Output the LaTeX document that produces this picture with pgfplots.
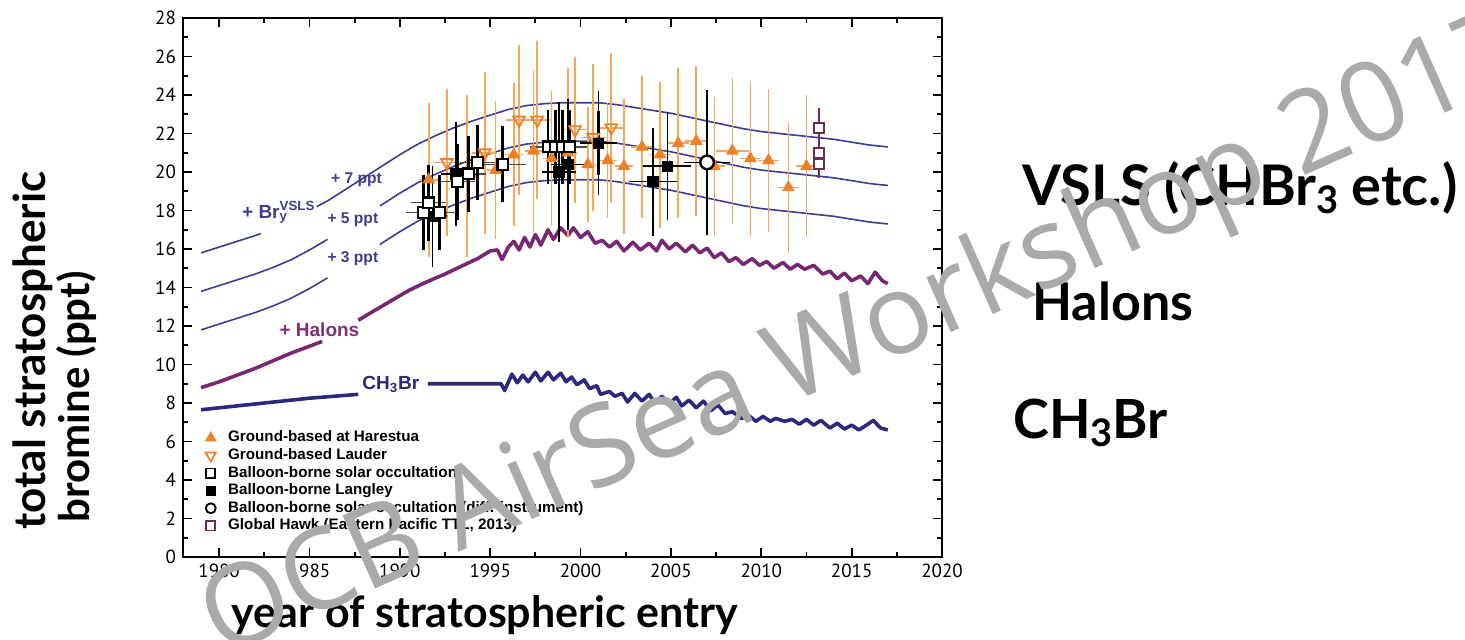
\documentclass[border=0pt]{standalone}
\usepackage{pgfplots}
\pgfplotsset{compat=1.18}
\usepackage{fontspec}
\newfontfamily\hand{Lato}
\newfontfamily\tickfont{PT Sans}
\newfontfamily\lbl{Liberation Sans}
\newfontfamily\wmfont{Open Sans}

\definecolor{vsls}{RGB}{60,60,150}
\definecolor{mebr}{RGB}{45,40,125}
\definecolor{halon}{RGB}{120,40,115}
\definecolor{orng}{RGB}{238,128,40}
\definecolor{orbar}{RGB}{246,165,90}
\definecolor{lblnavy}{RGB}{62,62,140}
\definecolor{lblpurple}{RGB}{125,48,115}
\definecolor{hawk}{RGB}{110,45,85}
\definecolor{wm}{RGB}{170,170,170}

\pgfplotsset{
  limg/.style={legend image code/.code={\path (-4pt,0pt) (8pt,0pt);\draw[mark repeat=2,mark phase=2,##1] plot coordinates {(-3pt,0pt)(0pt,0pt)(3pt,0pt)};}},
}

\begin{document}
\begin{tikzpicture}
\begin{axis}[
  at={(91.5pt,41pt)}, anchor=south west,
  scale only axis, width=379.5pt, height=269.5pt,
  xmin=1978, xmax=2020, ymin=0, ymax=28,
  xtick={1980,1985,...,2020}, ytick={0,2,...,28},
  minor x tick num=1, minor y tick num=1,
  tick align=inside, major tick length=4.5pt, minor tick length=2.5pt,
  axis line style={line width=1pt},
  every tick/.style={black, line width=0.9pt},
  tick label style={font=\tickfont\fontsize{9.5}{10}\selectfont},
  /pgf/number format/assume math mode=true,
  /pgf/number format/set thousands separator={},
  legend cell align=left,
  legend style={at={(0.025,0.237)}, anchor=north west, draw=none, fill=none,
    inner sep=0pt, row sep=0.6pt,
    font=\lbl\bfseries\fontsize{7.6}{8}\selectfont,
    nodes={inner sep=0.5pt, text height=5.6pt, text depth=1.6pt}},
]
% VSLS curves (+7, +5, +3 ppt)
\addplot[vsls, line width=0.8pt, forget plot] coordinates {
(1979,15.8)(1980,16.1)(1981,16.4)(1982,16.7)(1982.3,16.8)};
\addplot[vsls, line width=0.8pt, forget plot] coordinates {
(1985.4,18.2)(1986,18.5)(1987,19.1)(1988,19.7)(1989,20.3)(1990,20.9)(1991,21.45)
(1992,21.9)(1993,22.3)(1994,22.65)(1995,22.95)(1996,23.25)(1997,23.45)(1998,23.55)
(1999,23.6)(2000,23.6)(2001,23.6)(2002,23.5)(2003,23.35)(2004,23.2)(2005,23.05)
(2006,22.85)(2007,22.65)(2008,22.45)(2009,22.25)(2010,22.1)(2011,22.0)(2012,21.9)
(2013,21.8)(2014,21.7)(2015,21.55)(2016,21.4)(2017,21.3)};
\addplot[vsls, line width=0.8pt, forget plot] coordinates {
(1979,13.8)(1980,14.1)(1981,14.4)(1982,14.7)(1983,15.05)(1984,15.45)(1985,15.95)(1986,16.5)};
\addplot[vsls, line width=0.8pt, forget plot] coordinates {
(1988.9,18.24)(1989,18.3)(1990,18.9)(1991,19.45)(1992,19.9)(1993,20.3)(1994,20.65)
(1995,20.95)(1996,21.25)(1997,21.45)(1998,21.55)(1999,21.6)(2000,21.6)(2001,21.6)
(2002,21.5)(2003,21.35)(2004,21.2)(2005,21.05)(2006,20.85)(2007,20.65)(2008,20.45)
(2009,20.25)(2010,20.1)(2011,20.0)(2012,19.9)(2013,19.8)(2014,19.7)(2015,19.55)
(2016,19.4)(2017,19.3)};
\addplot[vsls, line width=0.8pt, forget plot] coordinates {
(1979,11.8)(1980,12.1)(1981,12.4)(1982,12.7)(1983,13.05)(1984,13.45)(1985,13.95)(1986,14.5)};
\addplot[vsls, line width=0.8pt, forget plot] coordinates {
(1988.9,16.24)(1989,16.3)(1990,16.9)(1991,17.45)(1992,17.9)(1993,18.3)(1994,18.65)
(1995,18.95)(1996,19.25)(1997,19.45)(1998,19.55)(1999,19.6)(2000,19.6)(2001,19.6)
(2002,19.5)(2003,19.35)(2004,19.2)(2005,19.05)(2006,18.85)(2007,18.65)(2008,18.45)
(2009,18.25)(2010,18.1)(2011,18.0)(2012,17.9)(2013,17.8)(2014,17.7)(2015,17.55)
(2016,17.4)(2017,17.3)};
% Halons
\addplot[halon, line width=1.8pt, forget plot] coordinates {
(1979,8.8)(1980,9.1)(1981,9.45)(1982,9.8)(1983,10.2)(1984,10.6)(1985,10.95)(1985.7,11.2)};
\addplot[halon, line width=1.8pt, forget plot, line join=round] coordinates {
(1987.7,12.3)(1988.5,12.75)(1989.5,13.3)(1990.5,13.85)(1991.5,14.3)(1992.5,14.7)
(1993.5,15.15)(1994.3,15.5)(1995.0,15.9)(1995.4,15.95)(1995.65,15.45)(1996.0,16.1)
(1996.3,16.4)(1996.6,15.95)(1996.9,16.6)(1997.2,16.1)(1997.5,16.75)(1997.8,16.2)
(1998.2,17.0)(1998.5,16.5)(1998.9,17.1)(1999.3,16.7)(1999.6,17.1)(2000.0,16.6)
(2000.4,16.9)(2000.8,16.3)(2001.2,16.45)(2001.6,16.1)(2002.0,16.4)(2002.4,15.9)
(2002.9,16.35)(2003.3,15.95)(2003.8,16.3)(2004.2,15.9)(2004.5,16.45)(2004.9,16.0)
(2005.3,16.3)(2005.8,15.85)(2006.2,16.2)(2006.6,15.8)(2007.0,16.05)(2007.4,15.55)
(2007.8,15.8)(2008.2,15.35)(2008.6,15.55)(2009.0,15.2)(2009.5,15.5)(2009.9,15.15)
(2010.3,15.35)(2010.7,15.0)(2011.2,15.3)(2011.6,14.95)(2012.0,15.2)(2012.4,14.95)
(2012.9,15.15)(2013.4,14.7)(2013.8,14.85)(2014.2,14.45)(2014.6,14.75)(2015.0,14.35)
(2015.5,14.6)(2015.9,14.2)(2016.3,14.8)(2016.7,14.35)(2017.0,14.2)};
% CH3Br
\addplot[mebr, line width=1.8pt, forget plot] coordinates {
(1979,7.65)(1981,7.85)(1983,8.05)(1985,8.25)(1987.7,8.45)};
\addplot[mebr, line width=1.8pt, forget plot, line join=round] coordinates {
(1991.55,9.0)(1995.6,9.0)(1995.8,8.65)(1996.2,9.5)(1996.5,9.05)(1996.8,9.45)
(1997.1,9.1)(1997.5,9.6)(1997.8,9.15)(1998.2,9.6)(1998.5,9.2)(1998.9,9.55)
(1999.2,9.1)(1999.5,9.35)(1999.8,8.95)(2000.2,9.2)(2000.5,8.75)(2000.9,8.9)
(2001.1,8.45)(2001.6,8.6)(2001.9,8.35)(2002.3,8.5)(2002.6,8.05)(2003.0,8.5)
(2003.4,8.1)(2003.8,8.45)(2004.1,8.0)(2004.5,8.35)(2004.9,7.95)(2005.3,8.3)
(2005.6,7.85)(2006.0,8.15)(2006.4,7.75)(2006.8,8.1)(2007.2,7.6)(2007.6,7.9)
(2008.0,7.45)(2008.4,7.55)(2008.9,7.2)(2009.3,7.35)(2009.7,7.05)(2010.1,7.3)
(2010.5,7.05)(2010.8,7.2)(2011.3,7.05)(2011.7,7.15)(2012.1,6.9)(2012.5,7.15)
(2012.9,6.85)(2013.3,7.1)(2013.8,6.7)(2014.2,6.95)(2014.6,6.65)(2015.0,6.85)
(2015.4,6.6)(2015.9,6.9)(2016.2,7.1)(2016.6,6.7)(2017.0,6.6)};
% Ground-based Lauder
\addplot[orng, only marks, mark=triangle, mark size=3.4pt, forget plot,
  mark options={rotate=180, fill=white, line width=0.9pt},
  error bars/.cd, x dir=both, x explicit, y dir=both, y explicit,
  error mark=none, error bar style={orbar, line width=0.8pt}] coordinates {
(1992.6,20.5) +- (0.7,3.8)
(1994.7,21.0) +- (0.7,4.2)
(1996.6,22.7) +- (0.7,3.9)
(1997.6,22.7) +- (0.7,4.1)
(1999.7,22.2) +- (0.7,3.8)
(2000.7,21.8) +- (0.7,3.8)
(2001.7,22.3) +- (0.7,3.9)};
% Ground-based Harestua
\addplot[orng, only marks, mark=triangle*, mark size=3.3pt, forget plot,
  error bars/.cd, x dir=both, x explicit, y dir=both, y explicit,
  error mark=none, error bar style={orbar, line width=0.8pt}] coordinates {
(1991.6,19.6) +- (0.5,4.0)
(1993.7,19.8) +- (0.5,4.2)
(1995.3,20.1) +- (0.5,3.6)
(1996.3,20.9) +- (0.5,3.7)
(1997.4,21.1) +- (0.5,4.2)
(1998.4,20.7) +- (0.5,3.5)
(1999.3,21.0) +- (0.5,4.4)
(2000.4,20.4) +- (0.5,3.0)
(2001.5,20.6) +- (0.5,3.0)
(2002.4,20.3) +- (0.5,3.5)
(2003.4,21.3) +- (0.6,3.7)
(2004.4,20.9) +- (0.6,3.8)
(2005.4,21.5) +- (0.6,3.9)
(2006.4,21.6) +- (0.6,3.9)
(2007.4,20.3) +- (0.6,3.6)
(2008.4,21.1) +- (0.9,3.8)
(2009.4,20.7) +- (0.6,4.0)
(2010.4,20.6) +- (0.6,3.7)
(2011.5,19.2) +- (0.6,3.4)
(2012.5,20.3) +- (0.6,3.7)};
% Balloon-borne Langley
\addplot[black, only marks, mark=square*, mark size=2.6pt, forget plot,
  error bars/.cd, x dir=both, x explicit, y dir=both, y explicit,
  error bar style={black, line width=0.8pt},
  error mark options={mark size=3pt, line width=0.8pt}] coordinates {
(1991.8,17.7) +- (0.5,2.3)
(1993.1,19.9) +- (0.5,2.4)
(1998.8,20.0) +- (0.6,3.3)
(1999.3,20.4) +- (0.6,3.1)
(2001.0,21.5) +- (0.7,2.4)
(2004.0,19.5) +- (1.0,2.5)
(2004.8,20.3) +- (1.0,2.5)};
\addplot[black, only marks, mark=square*, mark size=2.6pt, forget plot,
  error bars/.cd, y dir=both, y explicit,
  error bar style={black, line width=1.4pt},
  error mark options={mark size=4.5pt, line width=1.4pt}] coordinates {
(2001.0,21.5) +- (0,1.2)};
% Balloon-borne solar occultation
\addplot[black!70, only marks, mark=none, forget plot,
  error bars/.cd, x dir=both, x explicit,
  error bar style={black!70, line width=0.6pt},
  error mark options={mark size=2.5pt, line width=0.6pt}] coordinates {
(1991.3,17.9) +- (0.7,0)
(1991.6,18.4) +- (0.7,0)
(1992.2,17.9) +- (0.7,0)
(1993.2,19.5) +- (0.7,0)
(1993.8,19.9) +- (0.7,0)
(1994.3,20.5) +- (0.7,0)
(1995.7,20.4) +- (1.0,0)
(1998.2,21.3) +- (0.7,0)
(1998.6,21.3) +- (0.7,0)
(1999.0,21.3) +- (0.7,0)
(1999.4,21.3) +- (0.7,0)};
\addplot[black, only marks, mark=square*, mark size=2.7pt, forget plot,
  mark options={fill=white, line width=1.1pt},
  error bars/.cd, y dir=both, y explicit,
  error bar style={black, line width=1.4pt},
  error mark options={mark size=4.5pt, line width=1.4pt}] coordinates {
(1991.3,17.9) +- (0,1.5)
(1991.6,18.4) +- (0,1.5)
(1992.2,17.9) +- (0,1.5)
(1993.2,19.5) +- (0,1.5)
(1993.8,19.9) +- (0,1.5)
(1994.3,20.5) +- (0,1.5)
(1995.7,20.4) +- (0,1.5)
(1998.2,21.3) +- (0,1.45)
(1998.6,21.3) +- (0,1.45)
(1999.0,21.3) +- (0,1.45)
(1999.4,21.3) +- (0,1.45)};
% Balloon-borne solar occultation (diff. instrument)
\addplot[black, only marks, mark=none, forget plot,
  error bars/.cd, x dir=both, x explicit, y dir=both, y explicit,
  error bar style={black, line width=0.8pt},
  error mark options={mark size=2.5pt, line width=0.8pt}] coordinates {
(2007.0,20.5) +- (1.0,3.5)};
\addplot[black, only marks, mark=*, mark size=3.4pt, forget plot,
  mark options={fill=white, line width=1.2pt},
  error bars/.cd, y dir=both, y explicit,
  error bar style={black, line width=1.4pt},
  error mark options={mark size=4.5pt, line width=1.4pt}] coordinates {
(2007.0,20.5) +- (0,1.5)};
% Global Hawk
\addplot[hawk, only marks, mark=square*, mark size=2.5pt, forget plot,
  mark options={fill=white, line width=1pt},
  error bars/.cd, y dir=both, y explicit, error mark=none,
  error bar style={hawk, line width=1pt}] coordinates {
(2013.2,21.0) += (0,2.3) -= (0,1.3)
(2013.2,22.3) +- (0,0)
(2013.2,20.4) +- (0,0)};
% legend
\addlegendimage{limg, only marks, mark=triangle*, mark size=3pt, orng}
\addlegendentry{Ground-based at Harestua}
\addlegendimage{limg, only marks, mark=triangle, mark size=3pt, orng, mark options={rotate=180, line width=0.9pt}}
\addlegendentry{Ground-based Lauder}
\addlegendimage{limg, only marks, mark=square, mark size=2.3pt, black, mark options={line width=0.9pt}}
\addlegendentry{Balloon-borne solar occultation}
\addlegendimage{limg, only marks, mark=square*, mark size=2.3pt, black}
\addlegendentry{Balloon-borne Langley}
\addlegendimage{limg, only marks, mark=o, mark size=2.5pt, black, mark options={line width=0.9pt}}
\addlegendentry{Balloon-borne solar occultation (diff. instrument)}
\addlegendimage{limg, only marks, mark=square, mark size=2.3pt, hawk, mark options={line width=0.9pt}}
\addlegendentry{Global Hawk (Eastern Pacific TTL, 2013)}
% curve labels
\node[text=lblnavy, font=\lbl\bfseries\fontsize{9.5}{10}\selectfont] at (axis cs:1983.3,17.9)
  {+ Br\rlap{\textsubscript{y}}\textsuperscript{VSLS}};
\node[text=lblnavy, font=\lbl\bfseries\fontsize{7.8}{8}\selectfont] at (axis cs:1987.6,19.6) {+ 7 ppt};
\node[text=lblnavy, font=\lbl\bfseries\fontsize{7.8}{8}\selectfont] at (axis cs:1987.4,17.5) {+ 5 ppt};
\node[text=lblnavy, font=\lbl\bfseries\fontsize{7.8}{8}\selectfont] at (axis cs:1987.4,15.5) {+ 3 ppt};
\node[text=lblpurple, font=\lbl\bfseries\fontsize{9.5}{10}\selectfont] at (axis cs:1985.55,11.8) {+ Halons};
\node[text=mebr, font=\lbl\bfseries\fontsize{9.5}{10}\selectfont] at (axis cs:1989.5,8.95) {CH\textsubscript{3}Br};
\end{axis}
% outer labels
\node[rotate=90, anchor=west, inner sep=0pt, font=\hand\bfseries\fontsize{22}{24}\selectfont] at (16.5pt,54.5pt) {total stratospheric};
\node[rotate=90, anchor=west, inner sep=0pt, font=\hand\bfseries\fontsize{21}{23}\selectfont] at (38.5pt,58pt) {bromine (ppt)};
\node[anchor=base, inner sep=0pt, font=\hand\bfseries\fontsize{21.5}{23}\selectfont] at (242.5pt,6pt) {year of stratospheric entry};
\node[anchor=base west, inner sep=0pt, font=\hand\bfseries\fontsize{28}{30}\selectfont] at (511pt,217pt) {VSLS (CHBr\raisebox{-0.3ex}{\fontsize{19}{20}\selectfont 3} etc.)};
\node[anchor=base west, inner sep=0pt, font=\hand\bfseries\fontsize{26}{28}\selectfont] at (516pt,159.5pt) {Halons};
\node[anchor=base west, inner sep=0pt, font=\hand\bfseries\fontsize{27}{29}\selectfont] at (506.5pt,100.5pt) {CH\raisebox{-0.3ex}{\fontsize{19}{20}\selectfont 3}Br};
% watermark
\node[rotate=24, text=wm, font=\wmfont\fontsize{56}{62}\selectfont] at (433pt,150pt) {OCB AirSea Workshop 2017};
\pgfresetboundingbox
\path[use as bounding box] (0,0) rectangle (732.5pt,319.5pt);
\end{tikzpicture}
\end{document}
